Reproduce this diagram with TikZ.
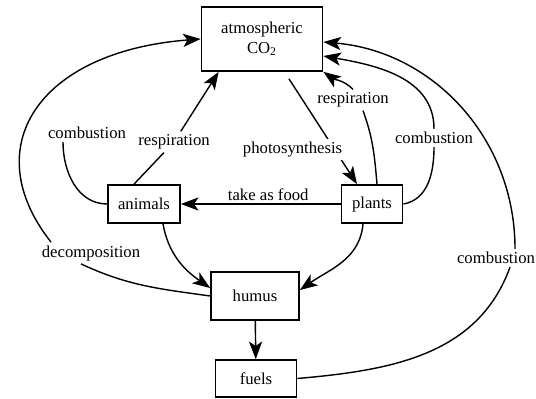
\documentclass[tikz,border=0pt]{standalone}
\usepackage{fontspec}
\setmainfont{Liberation Serif}
\usetikzlibrary{arrows.meta}

\begin{document}
\begin{tikzpicture}[
        box/.style={rectangle, draw, line width=1pt, inner sep=0pt, align=center},
        lbl/.style={inner sep=1.5pt},
        arr/.style={-{Stealth[length=10pt,width=7.5pt,inset=2.5pt]}},
        every node/.style={font=\fontsize{9.5}{11}\selectfont},
        line width=0.8pt]
        \useasboundingbox (0,0) rectangle (10.72,-7.98);

        % Draw boxes
        \node[box, minimum width=2.42cm, minimum height=1.28cm] (co2) at (5.24,-0.78) {atmospheric\\CO\textsubscript{2}};
        \node[box, minimum width=1.44cm, minimum height=0.76cm] (animals) at (2.88,-4.08) {animals};
        \node[box, minimum width=1.22cm, minimum height=0.76cm] (plants) at (7.44,-4.08) {plants};
        \node[box, minimum width=1.76cm, minimum height=0.96cm] (humus) at (5.10,-5.92) {humus};
        \node[box, minimum width=1.62cm, minimum height=0.74cm] (fuels) at (5.12,-7.57) {fuels};

        % Draw labels
        \node[lbl] (combA) at (1.74,-2.66) {combustion};
        \node[lbl] (respA) at (3.48,-2.84) {respiration};
        \node[lbl] (respP) at (7.06,-2.00) {respiration};
        \node[lbl] (combP) at (8.68,-2.76) {combustion};
        \node[lbl] (decomp) at (1.82,-5.06) {decomposition};
        \node[lbl] (combF) at (9.92,-5.16) {combustion};

        % Draw arrows from animals
        \draw ([xshift=-0.2cm]animals.north) -- (respA);
        \draw[arr] (respA) -- ([xshift=0.36cm]co2.south west);
        \draw (animals.west) to[out=180,in=-90] ([xshift=-0.48cm]combA.south);
        \draw[arr] ([xshift=0.38cm]animals.south) to[out=-80,in=145] ([yshift=0.16cm]humus.west);

        % Draw arrows from plants
        \draw[arr] ([xshift=0.54cm,yshift=-0.14cm]co2.south) -- ([xshift=-0.3cm]plants.north)
            node[lbl, fill=white, pos=0.67, anchor=east, xshift=0.22cm] (photo) {photosynthesis};
        \draw ([xshift=0.1cm]plants.north) to[out=95,in=-70] ([xshift=0.2cm]respP.south);
        \draw[arr] (respP.north) to[out=135,in=-35] (co2.south east);
        \draw (plants.east) to[out=10,in=-90] (combP.south);
        \draw[arr] (combP.north) to[out=90,in=-10] ([yshift=-0.34cm]co2.east);
        \draw[arr] (plants.west) -- (animals.east)
            node[lbl, midway, above, xshift=0.15cm] (food) {take as food};
        \draw[arr] ([xshift=-0.18cm]plants.south) to[out=-95,in=35] ([yshift=0.12cm]humus.east);

        % Draw arrows from humus and fuels
        \draw[arr] (humus) -- (fuels);
        \draw (humus.west) to[out=172,in=-25] ([xshift=-0.2cm]decomp.south);
        \draw[arr] ([xshift=-0.8cm]decomp.north) .. controls +(-1.5,1.9) and +(-3.24,-0.25) .. (co2.west);
        \draw (fuels.east) to[out=5,in=-110] ([xshift=0.28cm]combF.south);
        \draw[arr] ([xshift=0.38cm]combF.north) to[out=90,in=-5] ([yshift=-0.06cm]co2.east);
\end{tikzpicture}
\end{document}
